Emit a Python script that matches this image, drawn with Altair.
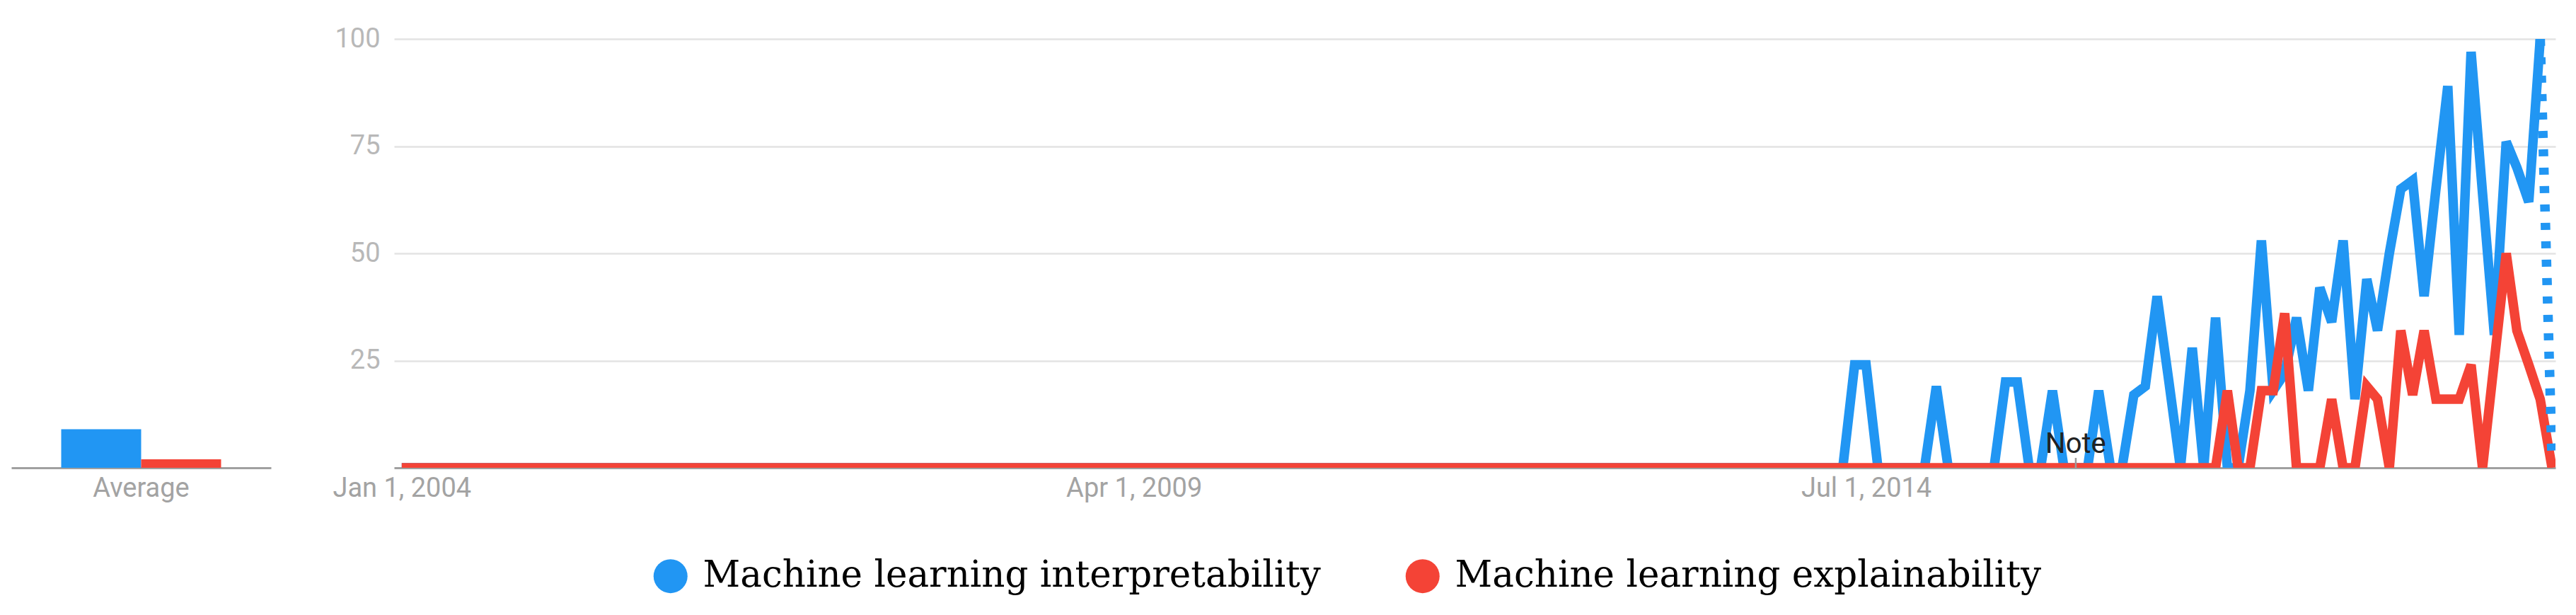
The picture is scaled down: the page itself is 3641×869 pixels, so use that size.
import altair as alt
import pandas as pd

# ---------------- data ----------------
series_names = ["Machine learning interpretability", "Machine learning explainability"]
series_colors = ["#2196F3", "#F44336"]

# monthly values, Jan 2004 .. Jun 2019 (186 months); last month is partial
month_labels = [d.strftime("%Y-%m-%d") for d in pd.date_range("2004-01-01", periods=186, freq="MS")]

interpretability = [0] * 124 + [
    0, 24, 24, 0, 0, 0, 0, 0, 19, 0,
    0, 0, 0, 0, 20, 20, 0, 0, 18, 0,
    0, 0, 18, 0, 0, 17, 19, 40, 20, 0,
    28, 0, 35, 0, 0, 18, 53, 18, 22, 35,
    18, 42, 34, 53, 16, 44, 32, 50, 65, 67,
    40, 65, 89, 31, 97, 64, 31, 76, 70, 62,
    100, 2,
]
explainability = [0] * 156 + [
    0, 18, 0, 0, 18, 18, 36, 0, 0, 0,
    16, 0, 0, 19, 16, 0, 32, 17, 32, 16,
    16, 16, 24, 0, 25, 50, 32, 24, 16, 0,
]

average_label = ["Average", "Average"]
average_values = [9, 2]

x_tick_dates = [(2004, 1, 1), (2009, 4, 1), (2014, 7, 1)]
y_tick_values = [25, 50, 75, 100]

note_date = ["2016-01-01"]
note_text = ["Note"]
note_base = [0]
note_tick_top = [2.3]

# ---------------- tables ----------------
blue_solid = pd.DataFrame({"date": month_labels[:185], "value": interpretability[:185],
                           "series": series_names[0]})
blue_partial = pd.DataFrame({"date": month_labels[184:], "value": interpretability[184:],
                             "series": series_names[0]})
red_solid = pd.DataFrame({"date": month_labels, "value": explainability,
                          "series": series_names[1]})
avg_df = pd.DataFrame({"label": average_label, "series": series_names, "value": average_values})
note_df = pd.DataFrame({"date": note_date, "text": note_text, "value": note_base,
                        "top": note_tick_top})

color_scale = alt.Scale(domain=series_names, range=series_colors)

AX_FONT = "Roboto"
PLOT_H = 606
LINE_W = 13.5

# ---------------- average panel ----------------
avg_chart = alt.Chart(avg_df).mark_bar().encode(
    x=alt.X("label:N", title=None,
            scale=alt.Scale(paddingInner=0, paddingOuter=0.312),
            axis=alt.Axis(labelAngle=0, ticks=False, labelFont=AX_FONT, labelFontSize=38,
                          labelColor="#a3a3a3", labelPadding=10, domainColor="#a0a0a0",
                          domainWidth=3, labelLimit=400)),
    xOffset=alt.XOffset("series:N", sort=series_names,
                        scale=alt.Scale(paddingInner=0, paddingOuter=0)),
    y=alt.Y("value:Q", scale=alt.Scale(domain=[0, 100], nice=False), axis=None),
    color=alt.Color("series:N", scale=color_scale, sort=series_names,
                    legend=alt.Legend(orient="none", legendX=906, legendY=733,
                                      direction="horizontal", title=None,
                                      symbolType="circle", symbolSize=2304,
                                      symbolStrokeWidth=0, symbolOpacity=1,
                                      labelFont="DejaVu Serif", labelFontSize=51.5,
                                      labelColor="#000000", labelLimit=3000,
                                      labelOffset=20, columnPadding=118)),
).properties(width=367, height=PLOT_H)

# ---------------- line panel ----------------
x_enc = alt.X("date:T", title=None,
              scale=alt.Scale(domain=[alt.DateTime(year=2003, month=12, date=12),
                                      alt.DateTime(year=2019, month=6, date=10)]),
              axis=alt.Axis(values=[alt.DateTime(year=y, month=m, date=d) for y, m, d in x_tick_dates],
                            format="%b %-d, %Y", ticks=False, grid=False,
                            labelFont=AX_FONT, labelFontSize=38, labelColor="#a3a3a3",
                            labelPadding=10, domainColor="#a0a0a0", domainWidth=3,
                            labelOverlap=False, labelLimit=400))
y_enc = alt.Y("value:Q", title=None,
              scale=alt.Scale(domain=[0, 100], nice=False),
              axis=alt.Axis(values=y_tick_values, ticks=False, domain=False, grid=True,
                            gridColor="#e3e3e3", gridWidth=2.5, labelFont=AX_FONT,
                            labelFontSize=38, labelColor="#b8b8b8", labelPadding=20))
c_enc = alt.Color("series:N", scale=color_scale, legend=None)

blue_line = alt.Chart(blue_solid).mark_line(strokeWidth=LINE_W, clip=True).encode(
    x=x_enc, y=y_enc, color=c_enc)
red_line = alt.Chart(red_solid).mark_line(strokeWidth=LINE_W, clip=True).encode(
    x=x_enc, y=y_enc, color=c_enc)
blue_dots = alt.Chart(blue_partial).mark_line(strokeWidth=LINE_W, clip=True,
                                              strokeDash=[10, 16]).encode(
    x=x_enc, y=y_enc, color=c_enc)

note_tick = alt.Chart(note_df).mark_rule(color="#9a9a9a", strokeWidth=2.5).encode(
    x=x_enc, y=y_enc, y2="top:Q")
note_label = alt.Chart(note_df).mark_text(font=AX_FONT, fontSize=40, color="#222222",
                                          baseline="alphabetic", dy=-21).encode(
    x=x_enc, y=y_enc, text="text:N")

line_chart = alt.layer(blue_line, red_line, blue_dots, note_tick, note_label).properties(
    width=3055, height=PLOT_H)

chart = alt.hconcat(avg_chart, line_chart, spacing=174, bounds="flush").properties(
    padding={"left": 8, "top": 28, "right": 8, "bottom": 8}
).configure(background="white").configure_view(stroke=None)

chart.save("out.html", embed_options={"renderer": "svg", "actions": False})
